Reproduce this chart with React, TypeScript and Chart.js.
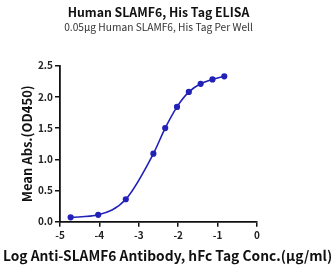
import React, { useEffect, useRef } from "react";
import { Chart, registerables } from "chart.js";

Chart.register(...registerables);

const titleText = "Human SLAMF6, His Tag ELISA";
const subtitleText = "0.05µg Human SLAMF6, His Tag Per Well";
const xTitle = "Log Anti-SLAMF6 Antibody, hFc Tag Conc.(µg/ml)";
const yTitle = "Mean Abs.(OD450)";

const logConc = [-4.73, -4.03, -3.33, -2.63, -2.33, -2.03, -1.73, -1.43, -1.13, -0.83];
const od450 = [0.07, 0.11, 0.36, 1.09, 1.5, 1.84, 2.08, 2.21, 2.28, 2.33];

const xTicks = [-5, -4, -3, -2, -1, 0];
const yTicks = [0, 0.5, 1.0, 1.5, 2.0, 2.5];

const FONT = "'Noto Sans CJK SC', 'Noto Sans', sans-serif";
const LINE = "#2222b8";

export default function App() {
  const ref = useRef<HTMLCanvasElement | null>(null);

  useEffect(() => {
    if (!ref.current) return;
    const textPlugin = {
      id: "textPlugin",
      afterDraw(chart: any) {
        const ctx = chart.ctx;
        const area = chart.chartArea;
        const cx = (area.left + area.right) / 2;
        ctx.save();
        ctx.textAlign = "center";
        ctx.textBaseline = "middle";
        ctx.fillStyle = "#111";
        ctx.font = `bold 12.3px ${FONT}`;
        ctx.fillText(titleText, cx, 12.5);
        ctx.fillStyle = "#333";
        ctx.font = `10.2px ${FONT}`;
        ctx.fillText(subtitleText, cx, 27.5);
        ctx.fillStyle = "#111";
        ctx.font = `bold 13.8px ${FONT}`;
        ctx.fillText(xTitle, chart.width / 2, 256);
        ctx.restore();
      },
    };
    const chart = new Chart(ref.current, {
      type: "line",
      data: {
        datasets: [
          {
            data: logConc.map((x, i) => ({ x, y: od450[i] })),
            borderColor: LINE,
            backgroundColor: LINE,
            borderWidth: 1.6,
            pointRadius: 2.3,
            pointHoverRadius: 2.3,
            cubicInterpolationMode: "monotone",
            fill: false,
          },
        ],
      },
      options: {
        animation: false,
        responsive: false,
        maintainAspectRatio: false,
        layout: { padding: { left: 0, right: 78, top: 65.7, bottom: 0 } },
        plugins: {
          legend: { display: false },
          tooltip: { enabled: false },
          title: { display: false },
          subtitle: { display: false },
        },
        scales: {
          x: {
            type: "linear",
            min: -5,
            max: 0,
            afterBuildTicks: (s: any) => {
              s.ticks = xTicks.map((v) => ({ value: v }));
            },
            afterFit: (s: any) => {
              s.height = 52.3;
            },
            grid: {
              drawOnChartArea: false,
              drawTicks: true,
              tickLength: 5,
              color: "#111",
              lineWidth: 1.5,
            },
            border: { color: "#111", width: 1.8 },
            ticks: {
              color: "#222",
              padding: 3,
              maxRotation: 0,
              font: { family: FONT, size: 10, weight: "bold" },
              callback: (v: any) => String(v),
            },
            title: { display: false },
          },
          y: {
            type: "linear",
            min: 0,
            max: 2.5,
            afterBuildTicks: (s: any) => {
              s.ticks = yTicks.map((v) => ({ value: v }));
            },
            afterFit: (s: any) => {
              s.width = 60;
            },
            grid: {
              drawOnChartArea: false,
              drawTicks: true,
              tickLength: 5,
              color: "#111",
              lineWidth: 1.5,
            },
            border: { color: "#111", width: 1.8 },
            ticks: {
              color: "#222",
              padding: 2,
              font: { family: FONT, size: 10, weight: "bold" },
              callback: (v: any) => Number(v).toFixed(1),
            },
            title: {
              display: true,
              text: yTitle,
              color: "#111",
              font: { family: FONT, size: 13, weight: "bold", lineHeight: 1.2 },
              padding: { top: 19, bottom: 0 },
            },
          },
        },
      },
      plugins: [textPlugin],
    });
    return () => chart.destroy();
  }, []);

  return (
    <div style={{ position: "fixed", left: 0, top: 0, width: 335, height: 274, background: "#fff" }}>
      <canvas ref={ref} width={335} height={274} style={{ width: 335, height: 274 }} />
    </div>
  );
}
